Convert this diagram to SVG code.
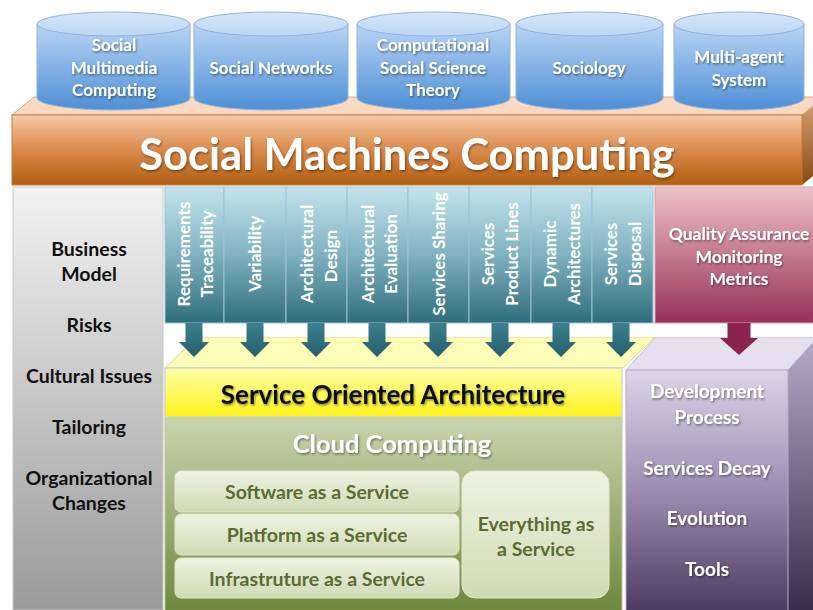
<svg xmlns="http://www.w3.org/2000/svg" width="813" height="610" viewBox="0 0 813 610">
<defs>
<linearGradient id="gCyl" x1="0" y1="0" x2="0" y2="1"><stop offset="0" stop-color="#b9d5f5"/><stop offset="1" stop-color="#4f8fd6"/></linearGradient>
<linearGradient id="gCylTop" x1="0" y1="0" x2="0" y2="1"><stop offset="0" stop-color="#d6e6fa"/><stop offset="1" stop-color="#bcd6f4"/></linearGradient>
<linearGradient id="gOr" x1="0" y1="0" x2="0" y2="1"><stop offset="0" stop-color="#f6cba6"/><stop offset="0.5" stop-color="#d9894a"/><stop offset="1" stop-color="#b05f12"/></linearGradient>
<linearGradient id="gOrSide" x1="0" y1="0" x2="0" y2="1"><stop offset="0" stop-color="#d8a27a"/><stop offset="1" stop-color="#8a4a10"/></linearGradient>
<linearGradient id="gGray" x1="0" y1="0" x2="0" y2="1"><stop offset="0" stop-color="#f2f2f2"/><stop offset="1" stop-color="#9a9a9a"/></linearGradient>
<linearGradient id="gTeal" x1="0" y1="0" x2="0" y2="1"><stop offset="0" stop-color="#c4e4ec"/><stop offset="0.5" stop-color="#7fb1bf"/><stop offset="1" stop-color="#2f6d7c"/></linearGradient>
<linearGradient id="gArr" x1="0" y1="0" x2="0" y2="1"><stop offset="0" stop-color="#3d7f8e"/><stop offset="1" stop-color="#245f6d"/></linearGradient>
<linearGradient id="gPink" x1="0" y1="0" x2="0" y2="1"><stop offset="0" stop-color="#ecc2c6"/><stop offset="0.5" stop-color="#c47a8c"/><stop offset="1" stop-color="#963059"/></linearGradient>
<linearGradient id="gYel" x1="0" y1="0" x2="0" y2="1"><stop offset="0" stop-color="#ffffa8"/><stop offset="1" stop-color="#fff21a"/></linearGradient>
<linearGradient id="gGreen" x1="0" y1="0" x2="0" y2="1"><stop offset="0" stop-color="#c9d5ae"/><stop offset="1" stop-color="#6d873b"/></linearGradient>
<linearGradient id="gSub" x1="0" y1="0" x2="0" y2="1"><stop offset="0" stop-color="#eef3e2"/><stop offset="1" stop-color="#cfdbb4"/></linearGradient>
<linearGradient id="gPur" x1="0" y1="0" x2="0" y2="1"><stop offset="0" stop-color="#dcd4e8"/><stop offset="0.5" stop-color="#9c8cb0"/><stop offset="1" stop-color="#4c3b5e"/></linearGradient>
<linearGradient id="gPurSide" x1="0" y1="0" x2="0" y2="1"><stop offset="0" stop-color="#b8aac8"/><stop offset="1" stop-color="#3c2c4c"/></linearGradient>
<filter id="sh" x="-10%" y="-30%" width="120%" height="160%"><feDropShadow dx="1" dy="1.5" stdDeviation="1" flood-color="#000" flood-opacity="0.45"/></filter>
</defs>
<style>
text{font-family:Lato,"Open Sans","Liberation Sans",sans-serif;font-weight:bold;text-anchor:middle}
.cyl{fill:url(#gCyl);stroke:#8db3e2;stroke-width:1}
.cylt{fill:url(#gCylTop);stroke:#8db3e2;stroke-width:1}
.wt{fill:#fff;filter:url(#sh)}
.ct{font-size:17px}
.qt{font-size:17.5px}
.col{fill:url(#gTeal);stroke:#9cc2d8;stroke-width:1}
.vt{font-size:17px;fill:#fff}
.lt{font-size:19.5px;fill:#111}
.pt{font-size:19px}
.sub{fill:url(#gSub);stroke:#dfe8cc;stroke-width:1}
.st{font-size:19.5px;fill:#5b6c33}
.arr{fill:url(#gArr)}
</style>
<rect width="813" height="610" fill="#fff"/>

<g id="smc">
<polygon points="12,115 34,97 824,97 802,115" fill="#f9d9c0" stroke="#e0a880" stroke-width="1"/>
<polygon points="802,115 824,97 824,167 802,185" fill="url(#gOrSide)"/>
<rect x="12" y="115" width="790" height="70" fill="url(#gOr)" stroke="#c47a3a" stroke-width="1"/>
<text class="wt" x="407" y="170" font-size="43.5">Social Machines Computing</text>
</g>

<g id="cyl1"><path class="cyl" d="M37,24 L37,98 A76.5,12 0 0 0 190,98 L190,24 Z"/><ellipse class="cylt" cx="113.5" cy="24" rx="76.5" ry="12"/>
<text class="wt ct" x="114" y="51">Social</text><text class="wt ct" x="114" y="74">Multimedia</text><text class="wt ct" x="114" y="96">Computing</text></g>
<g id="cyl2"><path class="cyl" d="M194,24 L194,98 A77,12 0 0 0 348,98 L348,24 Z"/><ellipse class="cylt" cx="271" cy="24" rx="77" ry="12"/>
<text class="wt ct" x="271" y="74">Social Networks</text></g>
<g id="cyl3"><path class="cyl" d="M357,24 L357,98 A76.5,12 0 0 0 510,98 L510,24 Z"/><ellipse class="cylt" cx="433.5" cy="24" rx="76.5" ry="12"/>
<text class="wt ct" x="433" y="51">Computational</text><text class="wt ct" x="433" y="74">Social Science</text><text class="wt ct" x="433" y="96">Theory</text></g>
<g id="cyl4"><path class="cyl" d="M516,24 L516,98 A73.5,12 0 0 0 663,98 L663,24 Z"/><ellipse class="cylt" cx="589.5" cy="24" rx="73.5" ry="12"/>
<text class="wt ct" x="589" y="74">Sociology</text></g>
<g id="cyl5"><path class="cyl" d="M674,24 L674,98 A65,12 0 0 0 804,98 L804,24 Z"/><ellipse class="cylt" cx="739" cy="24" rx="65" ry="12"/>
<text class="wt ct" x="739" y="63">Multi-agent</text><text class="wt ct" x="739" y="86">System</text></g>

<g id="left">
<rect x="13" y="187" width="150" height="423" fill="url(#gGray)" stroke="#c8c8c8" stroke-width="1"/>
<text class="lt" x="89" y="256">Business</text><text class="lt" x="89" y="281">Model</text>
<text class="lt" x="89" y="332">Risks</text>
<text class="lt" x="89" y="383">Cultural Issues</text>
<text class="lt" x="89" y="434">Tailoring</text>
<text class="lt" x="89" y="485">Organizational</text><text class="lt" x="89" y="510">Changes</text>
</g>

<g id="soa-top"><polygon points="165,368 197,337 655,337 623,368" fill="#fdfdb8" stroke="#d8d890" stroke-width="1"/></g>
<g id="dev-top"><polygon points="626,370 656,337 818,337 788,370" fill="#e6dff0" stroke="#c8bcd8" stroke-width="1"/></g>
<rect x="203" y="323" width="610" height="14" fill="#fff"/>

<g id="columns">
<g id="c1"><rect class="col" x="165" y="187" width="59" height="136"/><text class="vt" transform="translate(184,254) rotate(-90)" y="6">Requirements</text><text class="vt" transform="translate(207,254) rotate(-90)" y="6">Traceability</text></g>
<g id="c2"><rect class="col" x="224" y="187" width="62" height="136"/><text class="vt" transform="translate(255,254) rotate(-90)" y="6">Variability</text></g>
<g id="c3"><rect class="col" x="286" y="187" width="61" height="136"/><text class="vt" transform="translate(307,254) rotate(-90)" y="6">Architectural</text><text class="vt" transform="translate(331,256) rotate(-90)" y="6">Design</text></g>
<g id="c4"><rect class="col" x="347" y="187" width="61" height="136"/><text class="vt" transform="translate(368,254) rotate(-90)" y="6">Architectural</text><text class="vt" transform="translate(391,254) rotate(-90)" y="6">Evaluation</text></g>
<g id="c5"><rect class="col" x="408" y="187" width="61" height="136"/><text class="vt" transform="translate(438.5,254) rotate(-90)" y="6">Services Sharing</text></g>
<g id="c6"><rect class="col" x="469" y="187" width="62" height="136"/><text class="vt" transform="translate(488,254) rotate(-90)" y="6">Services</text><text class="vt" transform="translate(512,254) rotate(-90)" y="6">Product Lines</text></g>
<g id="c7"><rect class="col" x="531" y="187" width="61" height="136"/><text class="vt" transform="translate(550,254) rotate(-90)" y="6">Dynamic</text><text class="vt" transform="translate(574,254) rotate(-90)" y="6">Architectures</text></g>
<g id="c8"><rect class="col" x="592" y="187" width="61" height="136"/><text class="vt" transform="translate(611,254) rotate(-90)" y="6">Services</text><text class="vt" transform="translate(635,254) rotate(-90)" y="6">Disposal</text></g>
</g>

<g id="qa">
<rect x="655" y="187" width="160" height="136" fill="url(#gPink)" stroke="#d8a0b0" stroke-width="1"/>
<text class="wt qt" x="739" y="240">Quality Assurance</text><text class="wt qt" x="739" y="263">Monitoring</text><text class="wt qt" x="739" y="285">Metrics</text>
</g>

<g id="connectors">
<path class="arr" d="M185.5,323 h17 v19 h6.5 l-15,15 l-15,-15 h6.5 Z"/>
<path class="arr" d="M246.5,323 h17 v19 h6.5 l-15,15 l-15,-15 h6.5 Z"/>
<path class="arr" d="M307.5,323 h17 v19 h6.5 l-15,15 l-15,-15 h6.5 Z"/>
<path class="arr" d="M368.5,323 h17 v19 h6.5 l-15,15 l-15,-15 h6.5 Z"/>
<path class="arr" d="M429.5,323 h17 v19 h6.5 l-15,15 l-15,-15 h6.5 Z"/>
<path class="arr" d="M491.5,323 h17 v19 h6.5 l-15,15 l-15,-15 h6.5 Z"/>
<path class="arr" d="M552.5,323 h17 v19 h6.5 l-15,15 l-15,-15 h6.5 Z"/>
<path class="arr" d="M612.5,323 h17 v19 h6.5 l-15,15 l-15,-15 h6.5 Z"/>
<path d="M727.5,323 h23 v15 h7.5 l-19,17 l-19,-17 h7.5 Z" fill="#8a2352"/>
</g>

<g id="soa">
<rect x="165" y="368" width="457" height="49" fill="url(#gYel)" stroke="#b8c8d8" stroke-width="1"/>
<text x="393" y="404" font-size="26" fill="#111" style="filter:url(#sh)">Service Oriented Architecture</text>
</g>

<g id="cloud">
<rect x="165" y="418" width="457" height="195" fill="url(#gGreen)" stroke="#b8c89a" stroke-width="1"/>
<text class="wt" x="392" y="453" font-size="25.5">Cloud Computing</text>
<g id="saas"><rect class="sub" x="175" y="471" width="284" height="41" rx="6"/><text class="st" x="317" y="499">Software as a Service</text></g>
<g id="paas"><rect class="sub" x="175" y="514" width="284" height="41" rx="6"/><text class="st" x="317" y="542">Platform as a Service</text></g>
<g id="iaas"><rect class="sub" x="175" y="558" width="284" height="40" rx="6"/><text class="st" x="317" y="586">Infrastruture as a Service</text></g>
<g id="xaas"><rect class="sub" x="462" y="471" width="147" height="127" rx="13"/><text class="st" x="536" y="531">Everything as</text><text class="st" x="536" y="556">a Service</text></g>
</g>

<g id="dev">
<polygon points="788,370 818,337 818,610 788,610" fill="url(#gPurSide)"/>
<rect x="626" y="370" width="162" height="242" fill="url(#gPur)" stroke="#b8a8cc" stroke-width="1"/>
<text class="wt pt" x="707" y="398">Development</text><text class="wt pt" x="707" y="424">Process</text>
<text class="wt pt" x="707" y="475">Services Decay</text>
<text class="wt pt" x="707" y="525">Evolution</text>
<text class="wt pt" x="707" y="576">Tools</text>
</g>
</svg>
